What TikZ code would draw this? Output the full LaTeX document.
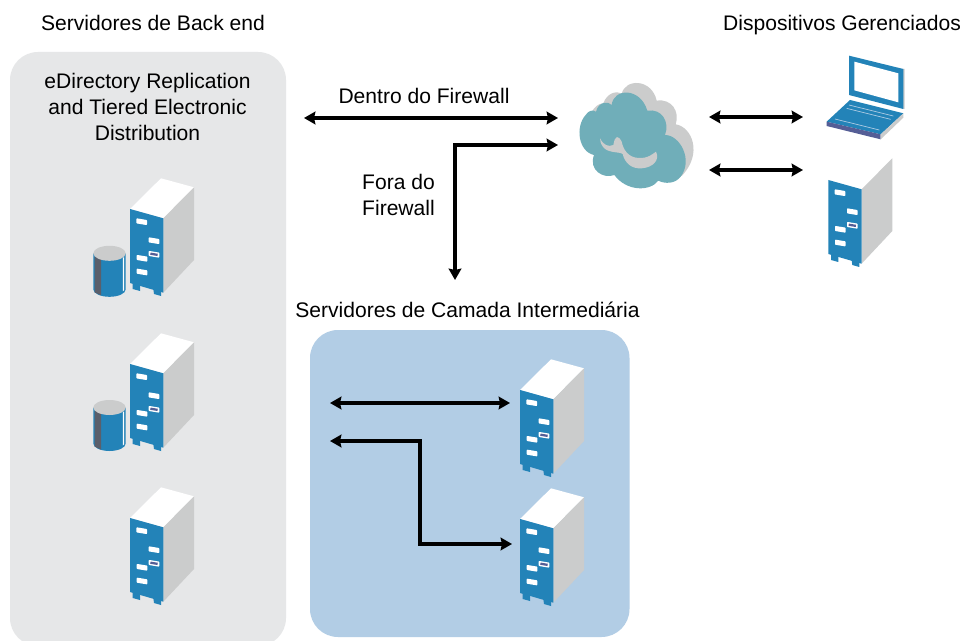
\documentclass[tikz,border=0pt]{standalone}
\usepackage{fontspec}
\setmainfont{Liberation Sans}
\usetikzlibrary{arrows.meta}
\definecolor{srvblue}{HTML}{2383B8}
\definecolor{srvgrey}{HTML}{CBCCCC}
\definecolor{boxgrey}{HTML}{E6E7E8}
\definecolor{boxblue}{HTML}{B2CDE5}
\definecolor{cloudc}{HTML}{70AEB9}
\definecolor{purp}{HTML}{555E96}
\definecolor{darkg}{HTML}{5A5F6B}
\tikzset{
  lbl/.style={font=\fontsize{15.8}{19.5}\selectfont,inner sep=0pt,align=center},
  link/.style={draw=black,line width=2.9pt,{Stealth[length=8.5pt,width=9.5pt,inset=1pt]}-{Stealth[length=8.5pt,width=9.5pt,inset=1pt]}},
  panel/.style={rounded corners=21pt,draw=none},
  slotline/.style={fill=white,draw=white,line width=1.2pt,line join=round},
  pics/server/.style={code={
    \fill[white] (0,0)--(31,-30.7)--(64,-21.7)--(33.3,9.3)--cycle;
    \fill[srvgrey] (33.3,9.3)--(64,-21.7)--(64,51)--(33.3,83.7)--cycle;
    \fill[srvblue] (2.7,74)--(10,76)--(10,82)--(2.7,80)--cycle;
    \fill[srvblue] (23.3,80)--(31,82)--(31,87)--(24,85)--cycle;
    \fill[srvblue] (0,0)--(33.3,9.3)--(33.3,83.7)--(0,74)--cycle;
    \foreach \a/\b in {11.7/12.7,24/31.7,12/49.3,12/63}{
      \path[slotline] (\a-4.5,\b-2.5)--(\a+4.5,\b-1)--(\a+4.5,\b+2.5)--(\a-4.5,\b+1)--cycle;}
    \path[slotline] (24-4.5,45.3-2.5)--(24+4.5,45.3-1)--(24+4.5,45.3+2.5)--(24-4.5,45.3+1)--cycle;
    \draw[purp,line width=1.7pt] (24-3.6,45.3-.6) -- (24+3.6,45.3+.6);
  }},
  pics/drum/.style={code={
    \fill[srvblue] (-16.2,0)--(-16.2,36) arc[start angle=180,end angle=0,x radius=16.2,y radius=7.5]--(16.2,0)--cycle;
    \fill[darkg] (-15,3)--(-15,39)--(-8.5,42)--(-8.5,3)--cycle;
    \fill[white] (13.3,4)--(14.5,4)--(14.5,37)--(13.3,38)--cycle;
    \fill[srvgrey] (0,0) ellipse[x radius=16.2,y radius=7.5];
  }},
}
\begin{document}
\begin{tikzpicture}[x=.75pt,y=-.75pt]
\useasboundingbox (0,0) rectangle (962,641);
\fill[white] (0,0) rectangle (962,641);
% panels
\path[panel,fill=boxgrey] (10,52) rectangle (286,646);
\fill[white] (0,641) rectangle (962,680);
\path[panel,fill=boxblue] (310,330) rectangle (629.5,637);
% labels
\node[lbl] (t1) at (153,23) {Servidores de Back end};
\node[lbl] (t2) at (842,25) {Dispositivos Gerenciados};
\node[lbl] (t3) at (147.5,107) {eDirectory Replication\\and Tiered Electronic\\Distribution};
\node[lbl] (t4) at (424,96) {Dentro do Firewall};
\node[lbl] (t5) at (398.5,195) {Fora do\\Firewall};
\node[lbl] (t6) at (467.5,310) {Servidores de Camada Intermediária};
% servers
\pic at (130,209) {server};
\pic at (130,364) {server};
\pic at (130,518) {server};
\pic at (520,390) {server};
\pic at (520,519) {server};
\pic at (828.3,180) {server};
\pic at (109.5,253.3) {drum};
\pic at (109.5,407.5) {drum};
% cloud
\begin{scope}[shift={(570,70)},x=.25pt,y=-.25pt]
  \fill[srvgrey] (62,130) .. controls (75,110) and (85,100) .. (100,100)
    .. controls (110,70) and (140,60) .. (155,72)
    .. controls (165,25) and (245,25) .. (260,92)
    .. controls (305,85) and (330,125) .. (317,163)
    .. controls (365,170) and (400,250) .. (335,318) -- (200,200) -- cycle;
  \fill[cloudc] (47,135) .. controls (55,122) and (68,118) .. (78,125)
    .. controls (85,95) and (115,92) .. (125,105)
    .. controls (130,55) and (210,50) .. (232,122)
    .. controls (275,115) and (300,155) .. (285,195)
    .. controls (330,195) and (370,270) .. (332,320)
    .. controls (315,342) and (285,342) .. (265,332)
    .. controls (240,365) and (170,365) .. (133,315)
    .. controls (100,328) and (55,300) .. (72,255)
    .. controls (25,245) and (15,170) .. (47,135) -- cycle;
  \fill[srvgrey] (90,205) .. controls (100,225) and (115,232) .. (130,225)
     .. controls (135,195) and (145,195) .. (155,215)
     .. controls (160,240) and (175,262) .. (205,264)
     .. controls (235,266) and (250,250) .. (258,245)
     .. controls (270,270) and (250,292) .. (215,295)
     .. controls (185,297) and (165,280) .. (158,252)
     .. controls (150,245) and (115,250) .. (100,232)
     .. controls (92,222) and (90,212) .. (90,205) -- cycle;
\end{scope}
% laptop
\begin{scope}[shift={(700,45)},x=.25pt,y=-.25pt]
  \fill[srvgrey] (605,72)--(614,72)--(614,192)--(605,190)--cycle;
  \fill[srvblue] (447,32)--(610,72)--(610,192)--(447,150)--cycle;
  \fill[white] (463,50)--(595,85)--(595,172)--(463,136)--cycle;
  \fill[srvblue] (450,165)--(610,205)--(542,268)--(380,230)--cycle;
  \fill[purp] (380,230)--(542,268)--(542,283)--(380,243)--cycle;
  \fill[srvgrey] (542,268)--(610,205)--(610,218)--(542,283)--cycle;
  \draw[boxblue,line width=.5pt] (447,180)--(580,213) (440,190)--(572,223) (405,222)--(538,255);
\end{scope}
% connector ends
\coordinate (a1) at (304,118); \coordinate (a2) at (558,118);
\coordinate (b1) at (558,145); \coordinate (b2) at (455,280);
\coordinate (c1) at (709,117); \coordinate (c2) at (803,117);
\coordinate (d1) at (709,170); \coordinate (d2) at (803,170);
\coordinate (e1) at (330,403); \coordinate (e2) at (510,403);
\coordinate (f1) at (330,441); \coordinate (f2) at (512,544);
\draw[link] (a1) -- (a2);
\draw[link] (b1) -| (b2);
\draw[link] (c1) -- (c2);
\draw[link] (d1) -- (d2);
\draw[link] (e1) -- (e2);
\draw[link] (f1) -- (420,441) -- (420,544) -- (f2);
\end{tikzpicture}
\end{document}
